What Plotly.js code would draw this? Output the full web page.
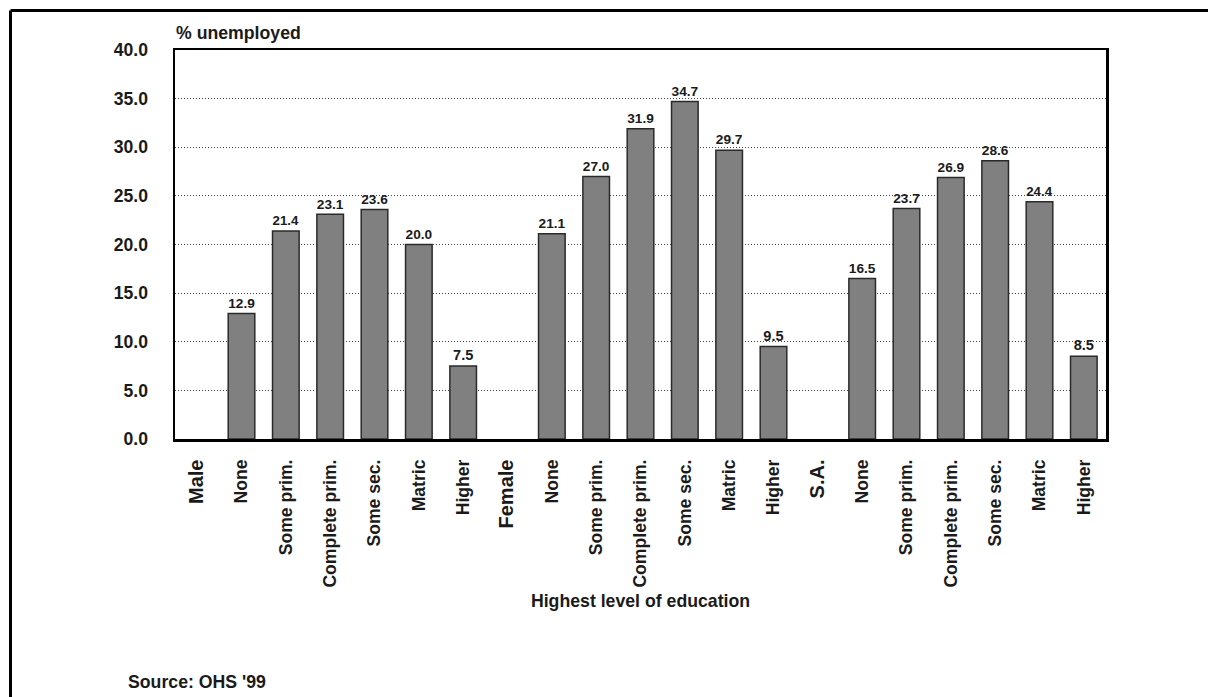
<!DOCTYPE html>
<html>
<head>
<meta charset="utf-8">
<script src="https://cdn.plot.ly/plotly-3.0.1.min.js"></script>
<style>
html,body{margin:0;padding:0;background:#fff;overflow:hidden;}
#chart{width:1208px;height:697px;}
</style>
</head>
<body>
<div id="chart"></div>
<script>
// Data
var groups = ["Male", "Female", "S.A."];
var levels = ["None", "Some prim.", "Complete prim.", "Some sec.", "Matric", "Higher"];
var maleValues = [12.9, 21.4, 23.1, 23.6, 20.0, 7.5];
var femaleValues = [21.1, 27.0, 31.9, 34.7, 29.7, 9.5];
var saValues = [16.5, 23.7, 26.9, 28.6, 24.4, 8.5];
var yTickValues = [0, 5, 10, 15, 20, 25, 30, 35, 40];

var groupValues = [maleValues, femaleValues, saValues];
var xs = [], ys = [], tickText = [];
var idx = 0;
groups.forEach(function (g, gi) {
  xs.push(idx); ys.push(null);
  tickText.push('<span style="font-size:20px">' + g + '</span>');
  idx++;
  levels.forEach(function (lv, li) {
    xs.push(idx); ys.push(groupValues[gi][li]);
    tickText.push(lv);
    idx++;
  });
});

var FONT = '"Liberation Sans", Arial, sans-serif';

// pixel -> paper helpers for the outer frame
var L = 175, R = 1106, T = 50, B = 439;
function px(x) { return (x - L) / (R - L); }
function py(y) { return (B - y) / (B - T); }

var trace = {
  type: 'bar',
  x: xs,
  y: ys,
  marker: { color: '#808080', line: { color: '#2a2a2a', width: 1.5 } },
  texttemplate: '%{y:.1f}',
  textposition: 'outside',
  cliponaxis: false,
  textfont: { family: FONT, size: 14.6, color: '#1a1a1a', weight: 700 },
  hoverinfo: 'skip'
};

var layout = {
  width: 1208,
  height: 697,
  margin: { l: L, r: 1208 - R, t: T, b: 697 - B },
  paper_bgcolor: '#ffffff',
  plot_bgcolor: '#ffffff',
  showlegend: false,
  bargap: 0.40,
  font: { family: FONT, color: '#1a1a1a' },
  xaxis: {
    range: [-0.5, xs.length - 0.5],
    tickmode: 'array',
    tickvals: xs,
    ticktext: tickText,
    tickangle: -90,
    ticks: '',
    ticklabelstandoff: 11,
    tickfont: { family: FONT, size: 17.6, color: '#1a1a1a', weight: 700 },
    showgrid: false,
    zeroline: false,
    showline: true,
    linecolor: '#000',
    linewidth: 2.5,
    mirror: true,
    title: { text: 'Highest level of education', font: { family: FONT, size: 17.7, color: '#1a1a1a', weight: 700 }, standoff: 8 },
    fixedrange: true
  },
  yaxis: {
    range: [0, 40],
    tickmode: 'array',
    tickvals: yTickValues,
    tickformat: '.1f',
    ticks: '',
    ticklabelstandoff: 21,
    tickfont: { family: FONT, size: 17.6, color: '#1a1a1a', weight: 700 },
    showgrid: true,
    gridcolor: '#444',
    griddash: '1px,2px',
    gridwidth: 1,
    zeroline: false,
    showline: true,
    linecolor: '#000',
    linewidth: 2.5,
    mirror: true,
    fixedrange: true
  },
  annotations: [
    { text: '% unemployed', xref: 'paper', yref: 'paper', x: px(174), y: py(33), xanchor: 'left', yanchor: 'middle', showarrow: false,
      font: { family: FONT, size: 17.7, color: '#1a1a1a', weight: 700 } },
    { text: "Source: OHS '99", xref: 'paper', yref: 'paper', x: px(126), y: py(682), xanchor: 'left', yanchor: 'middle', showarrow: false,
      font: { family: FONT, size: 17.7, color: '#1a1a1a', weight: 700 } }
  ],
  shapes: [
    { type: 'line', xref: 'paper', yref: 'paper', x0: px(10.5), x1: px(1208), y0: py(10.5), y1: py(10.5),
      line: { color: '#000', width: 3 }, layer: 'below' },
    { type: 'line', xref: 'paper', yref: 'paper', x0: px(10.5), x1: px(10.5), y0: py(10.5), y1: py(697),
      line: { color: '#000', width: 3 }, layer: 'below' }
  ]
};

Plotly.newPlot('chart', [trace], layout, { displayModeBar: false, staticPlot: true });
</script>
</body>
</html>
